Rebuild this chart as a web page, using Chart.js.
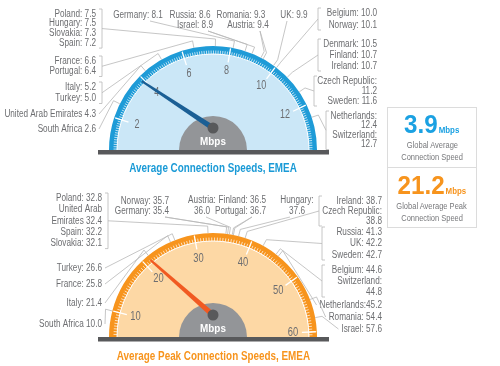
<!DOCTYPE html>
<html>
<head>
<meta charset="utf-8">
<script src="https://cdn.jsdelivr.net/npm/chart.js@4.4.1/dist/chart.umd.min.js"></script>
<style>
  body { margin: 0; width: 500px; height: 366px; overflow: hidden; position: relative; background: #fff;
         font-family: "Liberation Sans", Arial, sans-serif; }
  canvas { position: absolute; left: 0; top: 0; }
  .title { position: absolute; left: 0; width: 426px; text-align: center; font-weight: bold;
           font-size: 12.5px; line-height: 16px; white-space: nowrap; }
  .title span { display: inline-block; transform: scaleX(.79); }
  .box { position: absolute; left: 387px; top: 107px; width: 90px; height: 121px;
         border: 1.5px solid #dcdcdc; box-sizing: border-box; }
  .box .sep { position: absolute; left: 0; right: 0; top: 59px; border-top: 1.5px solid #dcdcdc; }
  .row { position: absolute; left: 387px; width: 90px; text-align: center; white-space: nowrap; }
  .row span { display: inline-block; }
  .big { font-size: 26px; line-height: 26px; font-weight: bold; }
  .big span { transform: scaleX(.93); }
  .big small { font-size: 8.5px; font-weight: bold; margin-left: 1px; }
  .cap { font-size: 9.5px; line-height: 12px; color: #77787b; }
  .cap span { transform: scaleX(.79); }
</style>
</head>
<body>
<canvas id="avgGauge" width="500" height="366"></canvas>
<canvas id="peakGauge" width="500" height="366"></canvas>

<div class="title" style="top:160px;color:#1a9ad6"><span>Average Connection Speeds, EMEA</span></div>
<div class="title" style="top:348px;color:#f7941d"><span>Average Peak Connection Speeds, EMEA</span></div>

<div class="box"><div class="sep"></div></div>
<div class="row big" style="top:111px;color:#1ba1e2"><span id="avgBig"></span></div>
<div class="row cap" style="top:139px"><span>Global Average</span></div>
<div class="row cap" style="top:151px"><span>Connection Speed</span></div>
<div class="row big" style="top:172px;color:#f7941d"><span id="peakBig"></span></div>
<div class="row cap" style="top:200px"><span>Global Average Peak</span></div>
<div class="row cap" style="top:212px"><span>Connection Speed</span></div>

<script>
// Average connection speed by country (Mbps)
const avgCountries = ['Poland', 'Hungary', 'Slovakia', 'Spain', 'France', 'Portugal', 'Italy', 'Turkey',
  'United Arab Emirates', 'South Africa', 'Germany', 'Russia', 'Israel', 'Romania', 'Austria', 'UK',
  'Belgium', 'Norway', 'Denmark', 'Finland', 'Ireland', 'Czech Republic', 'Sweden', 'Netherlands', 'Switzerland'];
const avgSpeeds = [7.5, 7.5, 7.3, 7.2, 6.6, 6.4, 5.2, 5.0, 4.3, 2.6, 8.1, 8.6, 8.9, 9.3, 9.4, 9.9,
  10.0, 10.1, 10.5, 10.7, 10.7, 11.2, 11.6, 12.4, 12.7];
const avgTicks = [2, 4, 6, 8, 10, 12];
const avgGlobal = 3.9;

// Average peak connection speed by country (Mbps)
const peakCountries = ['Poland', 'United Arab Emirates', 'Spain', 'Slovakia', 'Turkey', 'France', 'Italy',
  'South Africa', 'Norway', 'Germany', 'Austria', 'Finland', 'Portugal', 'Hungary', 'Ireland', 'Czech Republic',
  'Russia', 'UK', 'Sweden', 'Belgium', 'Switzerland', 'Netherlands', 'Romania', 'Israel'];
const peakSpeeds = [32.8, 32.4, 32.2, 32.1, 26.6, 25.8, 21.4, 10.0, 35.7, 35.4, 36.0, 36.5, 36.7, 37.6,
  38.7, 38.8, 41.3, 42.2, 42.7, 44.6, 44.8, 45.2, 54.4, 57.6];
const peakTicks = [10, 20, 30, 40, 50, 60];
const peakGlobal = 21.2;

// Label placement. kind: c = "Name: v", s = "Name v", w = wrapped, t = "Name:v", u = UAE split
const avgLabels = [
  {side: 'left', x: 96, y: 14, lh: 9.7, bracket: 102, items: [['Poland', 'c'], ['Hungary', 'c'], ['Slovakia', 'c'], ['Spain', 'c']]},
  {side: 'left', x: 96, y: 61, lh: 10.5, bracket: 102, items: [['France', 'c'], ['Portugal', 'c']]},
  {side: 'left', x: 96, y: 87, lh: 11.5, bracket: 102, items: [['Italy', 'c'], ['Turkey', 'c']]},
  {side: 'left', x: 96, y: 114, items: [['United Arab Emirates', 's']]},
  {side: 'left', x: 96, y: 129, items: [['South Africa', 's']]},
  {side: 'top', align: 'center', x: 138, y: 15, anchor: [150, 21], items: [['Germany', 'c']]},
  {side: 'top', align: 'center', x: 190, y: 15, anchor: [208, 31], items: [['Russia', 'c']]},
  {side: 'top', align: 'center', x: 195, y: 25, anchor: [208, 31], items: [['Israel', 'c']]},
  {side: 'top', align: 'center', x: 241, y: 15, anchor: [260, 31], items: [['Romania', 'c']]},
  {side: 'top', align: 'center', x: 248, y: 25, anchor: [260, 31], items: [['Austria', 'c']]},
  {side: 'top', align: 'center', x: 294, y: 15, anchor: [287, 21], items: [['UK', 'c']]},
  {side: 'right', x: 377, y: 13, lh: 12, bracket: 318, items: [['Belgium', 'c'], ['Norway', 'c']]},
  {side: 'right', x: 377, y: 44, lh: 11, bracket: 318, items: [['Denmark', 'c'], ['Finland', 'c'], ['Ireland', 'c']]},
  {side: 'right', x: 377, y: 81, lh: 10, bracket: 314, items: [['Czech Republic', 'w'], ['Sweden', 'c']]},
  {side: 'right', x: 377, y: 116, lh: 9.5, bracket: 326, items: [['Netherlands', 'w'], ['Switzerland', 'w']]}
];

const peakLabels = [
  {side: 'left', x: 102, y: 198, lh: 11.4, bracket: 108, items: [['Poland', 'c'], ['United Arab Emirates', 'u'], ['Spain', 'c'], ['Slovakia', 'c']]},
  {side: 'left', x: 102, y: 268, items: [['Turkey', 'c']]},
  {side: 'left', x: 102, y: 284, items: [['France', 'c']]},
  {side: 'left', x: 102, y: 303, items: [['Italy', 'c']]},
  {side: 'left', x: 102, y: 324, items: [['South Africa', 's']]},
  {side: 'top', align: 'right', x: 169, y: 201, lh: 10.5, anchor: [165, 217], items: [['Norway', 'c'], ['Germany', 'c']]},
  {side: 'top', align: 'center', x: 202, y: 200, lh: 11, anchor: [206, 217], items: [['Austria', 'w']]},
  {side: 'top', align: 'right', x: 266, y: 200, lh: 11, anchor: [252, 217], items: [['Finland', 'c'], ['Portugal', 'c']]},
  {side: 'top', align: 'center', x: 297, y: 200, lh: 11, anchor: [290, 217], items: [['Hungary', 'w']]},
  {side: 'right', x: 382, y: 201, lh: 10, bracket: 319, items: [['Ireland', 'c'], ['Czech Republic', 'w']]},
  {side: 'right', x: 382, y: 232, lh: 11.5, bracket: 322, items: [['Russia', 'c'], ['UK', 'c'], ['Sweden', 'c']]},
  {side: 'right', x: 382, y: 270, lh: 11, bracket: 322, items: [['Belgium', 'c'], ['Switzerland', 'w']]},
  {side: 'right', x: 382, y: 305, items: [['Netherlands', 't']]},
  {side: 'right', x: 382, y: 317, items: [['Romania', 'c']]},
  {side: 'right', x: 382, y: 329, items: [['Israel', 'c']]}
];

const LABEL_FONT = '10px "Liberation Sans", Arial, sans-serif';
const LABEL_SX = 0.82;
const TEXT_GRAY = '#6d6e71';
const LEADER = '#b8b8b8';

function labelLines(name, v, kind) {
    const s = v.toFixed(1);
    if (kind === 's') return [name + ' ' + s];
    if (kind === 'w') return [name + ':', s];
    if (kind === 't') return [name + ':' + s];
    if (kind === 'u') return ['United Arab', 'Emirates ' + s];
    return [name + ': ' + s];
}

function drawText(ctx, text, x, y, align, sx) {
    ctx.save();
    ctx.translate(x, y);
    ctx.scale(sx, 1);
    ctx.textAlign = align;
    ctx.textBaseline = 'middle';
    ctx.fillText(text, 0, 0);
    ctx.restore();
}

function segments(lo, hi, ticks) {
    // band pieces between major ticks
    const out = [];
    let prev = lo;
    for (const t of ticks) { out.push(t - prev); prev = t; }
    out.push(hi - prev);
    return out;
}

function gaugePlugin(g) {
    return {
        id: 'gauge',
        afterDatasetsDraw(chart) {
            const ctx = chart.ctx;
            const arcs = chart.getDatasetMeta(0).data;
            const cx = arcs[0].x, cy = arcs[0].y;
            const R = arcs[0].outerRadius, rIn = arcs[0].innerRadius;
            const a0 = arcs[0].startAngle, a1 = arcs[arcs.length - 1].endAngle;
            const ang = v => a0 + (v - g.lo) / (g.hi - g.lo) * (a1 - a0);
            const at = (v, r) => [cx + r * Math.cos(ang(v)), cy + r * Math.sin(ang(v))];
            const seg = (p, q) => { ctx.beginPath(); ctx.moveTo(p[0], p[1]); ctx.lineTo(q[0], q[1]); ctx.stroke(); };

            ctx.save();
            // minor ticks on the inner part of the band
            ctx.strokeStyle = '#fff';
            ctx.lineWidth = 0.7;
            for (let v = Math.ceil(g.lo / g.minor) * g.minor; v < g.hi; v += g.minor) {
                seg(at(v, rIn), at(v, rIn + 3.5));
            }
            ctx.lineWidth = 1;
            ctx.beginPath();
            ctx.arc(cx, cy, rIn, Math.PI, 2 * Math.PI);
            ctx.stroke();
            // major ticks
            ctx.lineWidth = 1.3;
            g.ticks.forEach(t => seg(at(t, rIn - 7), at(t, R - 1)));

            // tick labels
            ctx.fillStyle = TEXT_GRAY;
            ctx.font = '12px "Liberation Sans", Arial, sans-serif';
            g.ticks.forEach(t => {
                const p = at(t, R * 0.77);
                drawText(ctx, String(t), p[0], p[1], 'center', g.tickSx);
            });

            // hub
            ctx.fillStyle = '#939598';
            ctx.beginPath();
            ctx.arc(cx, cy, 34, Math.PI, 2 * Math.PI);
            ctx.fill();
            ctx.fillStyle = '#fff';
            ctx.font = 'bold 11px "Liberation Sans", Arial, sans-serif';
            drawText(ctx, 'Mbps', cx, cy - 8, 'center', 0.9);

            // needle
            const P = [cx, cy - 22];
            const T = at(g.value, R - 5);
            const dx = T[0] - P[0], dy = T[1] - P[1];
            const len = Math.hypot(dx, dy);
            const nx = -dy / len, ny = dx / len;
            ctx.fillStyle = g.needle;
            ctx.beginPath();
            ctx.moveTo(P[0] + nx * 2.8, P[1] + ny * 2.8);
            ctx.lineTo(T[0] + nx * 1.1, T[1] + ny * 1.1);
            ctx.lineTo(T[0] - nx * 1.1, T[1] - ny * 1.1);
            ctx.lineTo(P[0] - nx * 2.8, P[1] - ny * 2.8);
            ctx.closePath();
            ctx.fill();
            ctx.fillStyle = '#58595b';
            ctx.beginPath();
            ctx.arc(P[0], P[1], 5.5, 0, 2 * Math.PI);
            ctx.fill();

            // base bar
            ctx.fillStyle = '#58595b';
            ctx.fillRect(cx - 115, cy, 231, 4.5);

            // country labels, brackets and leaders
            ctx.font = LABEL_FONT;
            g.labels.forEach(grp => {
                const lh = grp.lh || 10;
                const align = grp.align || 'right';
                const lines = [];
                let y = grp.y;
                grp.items.forEach(([name, kind]) => {
                    labelLines(name, g.values.get(name), kind).forEach(t => { lines.push({t, y}); y += lh; });
                });
                ctx.fillStyle = TEXT_GRAY;
                let maxW = 0;
                lines.forEach(l => {
                    drawText(ctx, l.t, grp.x, l.y, align, LABEL_SX);
                    maxW = Math.max(maxW, ctx.measureText(l.t).width * LABEL_SX);
                });
                const yTop = lines[0].y, yBot = lines[lines.length - 1].y;
                ctx.strokeStyle = LEADER;
                ctx.lineWidth = 0.8;
                let anchor;
                let targets;
                if (grp.bracket) {
                    const bx = grp.bracket;
                    const dir = grp.side === 'left' ? -3 : 3;
                    ctx.beginPath();
                    ctx.moveTo(bx + dir, yTop - 5);
                    ctx.lineTo(bx, yTop - 5);
                    ctx.lineTo(bx, yBot + 5);
                    ctx.lineTo(bx + dir, yBot + 5);
                    ctx.stroke();
                    anchor = [bx, (yTop + yBot) / 2];
                    const vals = grp.items.map(([n]) => g.values.get(n));
                    targets = [vals.reduce((a, b) => a + b, 0) / vals.length];
                } else {
                    if (grp.side === 'left') anchor = [grp.x + 3, yTop];
                    else if (grp.side === 'right') anchor = [grp.x - maxW - 3, yTop];
                    else anchor = grp.anchor;
                    targets = grp.items.map(([n]) => g.values.get(n));
                }
                targets.forEach(v => {
                    const b = at(v, R + 7), e = at(v, R);
                    ctx.beginPath();
                    ctx.moveTo(anchor[0], anchor[1]);
                    ctx.lineTo(b[0], b[1]);
                    ctx.lineTo(e[0], e[1]);
                    ctx.stroke();
                });
            });
            ctx.restore();
        }
    };
}

function makeGauge(id, g) {
    return new Chart(document.getElementById(id), {
        type: 'doughnut',
        data: {
            datasets: [
                {data: segments(g.lo, g.hi, g.ticks), backgroundColor: g.band, borderWidth: 0, weight: 8},
                {data: [g.hi - g.lo], backgroundColor: g.fill, borderWidth: 0, weight: 96}
            ]
        },
        options: {
            responsive: false,
            animation: false,
            events: [],
            rotation: -90,
            circumference: 180,
            cutout: 0,
            layout: {padding: g.padding},
            plugins: {legend: {display: false}, tooltip: {enabled: false}}
        },
        plugins: [gaugePlugin(g)]
    });
}

makeGauge('avgGauge', {
    lo: 0.66, hi: 13.9, ticks: avgTicks, minor: 0.1, tickSx: 0.75,
    value: avgGlobal,
    values: new Map(avgCountries.map((c, i) => [c, avgSpeeds[i]])),
    labels: avgLabels,
    band: '#1e9bd7', fill: '#cbe7f7', needle: '#1b5f95',
    padding: {left: 109, right: 183, top: 46, bottom: 216}
});

makeGauge('peakGauge', {
    lo: 5.54, hi: 60.9, ticks: peakTicks, minor: 0.5, tickSx: 0.78,
    value: peakGlobal,
    values: new Map(peakCountries.map((c, i) => [c, peakSpeeds[i]])),
    labels: peakLabels,
    band: '#f7941d', fill: '#fdd8a5', needle: '#f15a22',
    padding: {left: 109, right: 183, top: 233, bottom: 29}
});

document.getElementById('avgBig').innerHTML = avgGlobal.toFixed(1) + '<small>Mbps</small>';
document.getElementById('peakBig').innerHTML = peakGlobal.toFixed(1) + '<small>Mbps</small>';
</script>
</body>
</html>
